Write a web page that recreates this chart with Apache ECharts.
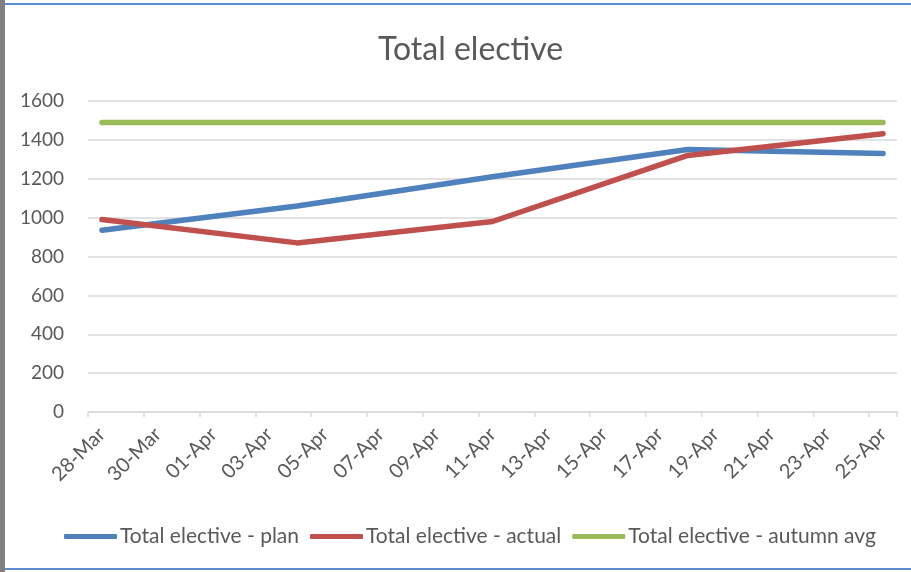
<!DOCTYPE html>
<html>
<head>
<meta charset="utf-8">
<script src="https://cdn.jsdelivr.net/npm/echarts@6/dist/echarts.min.js"></script>
<style>
  html, body { margin: 0; padding: 0; background: #ffffff; }
  #chart { width: 911px; height: 572px; }
</style>
</head>
<body>
<div id="chart"></div>
<script>
// Day-by-day axis categories (28-Mar .. 25-Apr)
const dayLabels = [
  '28-Mar', '29-Mar', '30-Mar', '31-Mar', '01-Apr', '02-Apr', '03-Apr', '04-Apr',
  '05-Apr', '06-Apr', '07-Apr', '08-Apr', '09-Apr', '10-Apr', '11-Apr', '12-Apr',
  '13-Apr', '14-Apr', '15-Apr', '16-Apr', '17-Apr', '18-Apr', '19-Apr', '20-Apr',
  '21-Apr', '22-Apr', '23-Apr', '24-Apr', '25-Apr'
];

// Weekly reporting dates
const weekDates = ['28-Mar', '04-Apr', '11-Apr', '18-Apr', '25-Apr'];

// Weekly values
const planValues = [935, 1060, 1210, 1350, 1330];
const actualValues = [990, 870, 980, 1320, 1432];
const autumnAvgValues = [1490, 1490, 1490, 1490, 1490];

const seriesNames = [
  'Total elective - plan',
  'Total elective - actual',
  'Total elective - autumn avg'
];

const yTicks = { min: 0, max: 1600, interval: 200 };

const FONT = 'Lato, "Open Sans", sans-serif';
const TEXT = '#595959';
const GRID = '#d9d9d9';
const colors = ['#4f81bd', '#c0504d', '#9bbb59'];

function pairs(values) {
  return weekDates.map((d, i) => [d, values[i]]);
}

function lineSeries(name, values, color) {
  return {
    name: name,
    type: 'line',
    data: pairs(values),
    symbol: 'none',
    lineStyle: { color: color, width: 5.5, cap: 'round', join: 'round' },
    itemStyle: { color: color },
    emphasis: { disabled: true },
    animation: false
  };
}

const chart = echarts.init(document.getElementById('chart'), null, { renderer: 'canvas' });

chart.setOption({
  backgroundColor: '#ffffff',
  animation: false,
  title: {
    text: 'Total elective',
    left: 373,
    top: 29,
    textStyle: { fontFamily: FONT, fontSize: 32, fontWeight: 'normal', color: TEXT }
  },
  legend: {
    left: 59,
    top: 521,
    icon: 'roundRect',
    itemWidth: 53,
    itemHeight: 5,
    itemGap: 11,
    textStyle: { fontFamily: FONT, fontSize: 21, color: TEXT, padding: [0, 0, 0, -2] },
    data: seriesNames.map((n, i) => ({ name: n, itemStyle: { color: colors[i] } }))
  },
  grid: { left: 88, right: 14, top: 101, bottom: 160, containLabel: false },
  xAxis: {
    type: 'category',
    data: dayLabels,
    boundaryGap: true,
    axisLine: { lineStyle: { color: GRID, width: 1.5 } },
    axisTick: { show: true, interval: 1, alignWithLabel: false, length: 5, lineStyle: { color: GRID, width: 1.5 } },
    axisLabel: {
      interval: 1,
      rotate: 45,
      margin: 19,
      fontFamily: FONT,
      fontSize: 20,
      color: TEXT
    },
    splitLine: { show: false }
  },
  yAxis: {
    type: 'value',
    min: yTicks.min,
    max: yTicks.max,
    interval: yTicks.interval,
    axisLine: { show: false },
    axisTick: { show: false },
    axisLabel: {
      margin: 24,
      fontFamily: FONT,
      fontSize: 19,
      color: TEXT,
      formatter: v => String(v)
    },
    splitLine: { lineStyle: { color: GRID, width: 1.5 } }
  },
  series: [
    lineSeries(seriesNames[0], planValues, colors[0]),
    lineSeries(seriesNames[1], actualValues, colors[1]),
    lineSeries(seriesNames[2], autumnAvgValues, colors[2])
  ],
  graphic: [
    // frame: grey left edge, blue rules top and bottom
    { type: 'rect', shape: { x: 0, y: 0, width: 5, height: 572 }, style: { fill: '#808080' }, silent: true },
    { type: 'rect', shape: { x: 5, y: 3, width: 906, height: 2 }, style: { fill: '#5b8bd0' }, silent: true },
    { type: 'rect', shape: { x: 5, y: 568, width: 906, height: 2 }, style: { fill: '#5b8bd0' }, silent: true }
  ]
});
</script>
</body>
</html>
